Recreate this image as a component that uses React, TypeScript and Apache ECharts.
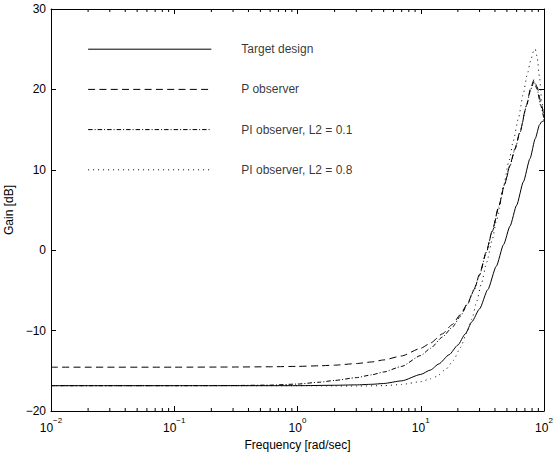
import React, { useEffect, useRef } from 'react';
import * as echarts from 'echarts';

// ---- data ----
const targetFreq = [0.01, 0.1, 1, 2, 3, 4, 5, 7, 10, 12, 14, 17, 20, 23, 26, 30, 35, 41, 47, 53, 60, 68, 77, 85, 92, 96, 100];
const targetGain = [-16.85, -16.85, -16.85, -16.8, -16.75, -16.68, -16.58, -16.25, -15.45, -14.9, -14.15, -13.0, -11.8, -10.4, -8.9, -7.3, -4.9, -2.0, 0.7, 3.0, 5.6, 8.5, 11.4, 13.9, 15.6, 16.0, 16.1];

const pObsFreq = [0.01, 0.1, 0.3, 0.6, 1, 1.5, 2, 3, 4, 5, 7, 10, 12, 15, 18, 21, 24, 27, 30, 34, 38, 43, 48, 53, 58, 64, 72, 78, 83, 88, 94, 100];
const pObsGain = [-14.55, -14.55, -14.53, -14.5, -14.45, -14.38, -14.3, -14.1, -13.9, -13.65, -13.15, -12.2, -11.55, -10.4, -9.25, -8.0, -6.6, -4.9, -3.0, -0.2, 2.4, 5.5, 8.3, 10.6, 12.6, 14.8, 18.0, 20.2, 21.2, 20.3, 18.5, 16.6];

const pi01Freq = [0.01, 0.1, 0.3, 0.6, 1, 1.5, 2, 3, 4, 5, 7, 10, 12, 15, 18, 21, 24, 27, 30, 34, 38, 43, 48, 53, 58, 64, 72, 78, 83, 88, 94, 100];
const pi01Gain = [-16.85, -16.85, -16.83, -16.78, -16.65, -16.42, -16.2, -15.85, -15.5, -15.15, -14.45, -13.1, -12.2, -10.8, -9.6, -8.2, -6.7, -5.0, -3.1, -0.3, 2.3, 5.4, 8.2, 10.5, 12.5, 14.7, 17.9, 20.0, 21.0, 20.0, 18.0, 16.3];

const pi08Freq = [0.01, 1, 2, 3, 5, 7, 10, 12, 13.5, 16, 18.4, 21, 23.6, 26, 28.4, 31, 34.3, 38, 41.3, 46.9, 52, 56.4, 62, 67.8, 73, 78, 82, 85, 88, 92, 96, 100];
const pi08Gain = [-16.85, -16.85, -16.88, -16.9, -16.85, -16.7, -16.35, -16.0, -15.7, -14.8, -13.7, -12.1, -10.3, -8.6, -6.4, -4.2, -1.5, 1.3, 3.8, 8.0, 11.1, 13.6, 16.4, 19.4, 21.8, 23.6, 24.7, 25.0, 24.0, 21.5, 18.5, 16.0];

const legendNames = ['Target design', 'P observer', 'PI observer, L2 = 0.1', 'PI observer, L2 = 0.8'];
const legendLevels = [25, 20, 15, 10];
const legendLineFrom = 0.02;
const legendLineTo = 0.2;
const legendTextAt = 0.35;

const xMin = 0.01;
const xMax = 100;
const yMin = -20;
const yMax = 30;
const yStep = 10;
const decades = [0.01, 0.1, 1, 10];
const minorMultipliers = [2, 3, 4, 5, 6, 7, 8, 9];

const FONT = '"Liberation Sans", Arial, Helvetica, sans-serif';
const dashTypes: any[] = ['solid', [7, 4.3], [4.5, 2, 1, 2], [1, 4]];

const zip = (f: number[], g: number[]) => f.map((v, i) => [v, g[i]]);
const minus = (s: string) => s.replace('-', '\u2212');

export default function App() {
  const ref = useRef<HTMLDivElement>(null);
  useEffect(() => {
    if (!ref.current) return;
    const chart = echarts.init(ref.current, undefined, { renderer: 'svg' });
    const minorTicks: number[][] = [];
    decades.forEach((d) => minorMultipliers.forEach((m) => minorTicks.push([d * m, yMin])));

    const curves = [
      zip(targetFreq, targetGain),
      zip(pObsFreq, pObsGain),
      zip(pi01Freq, pi01Gain),
      zip(pi08Freq, pi08Gain),
    ];

    const series: any[] = [];
    curves.forEach((data, i) => {
      series.push({
        type: 'line',
        name: legendNames[i],
        data,
        showSymbol: false,
        symbol: 'none',
        smooth: 0.2,
        smoothMonotone: 'x',
        silent: true,
        lineStyle: { color: '#000', width: 1, type: dashTypes[i] },
        z: 3,
      });
      series.push({
        type: 'line',
        data: [[legendLineFrom, legendLevels[i]], [legendLineTo, legendLevels[i]]],
        showSymbol: false,
        symbol: 'none',
        silent: true,
        lineStyle: { color: '#000', width: 1, type: dashTypes[i] },
        z: 3,
      });
    });
    series.push({
      type: 'scatter',
      data: legendNames.map((n, i) => [legendTextAt, legendLevels[i], n]),
      symbolSize: 0,
      silent: true,
      label: {
        show: true,
        position: 'right',
        distance: 0,
        formatter: (p: any) => p.value[2],
        color: '#000',
        fontSize: 12,
        fontFamily: FONT,
      },
    });
    series.push({
      type: 'custom',
      data: minorTicks,
      silent: true,
      clip: false,
      renderItem: (_p: any, api: any) => {
        const x = api.value(0);
        const b = api.coord([x, yMin]);
        const t = api.coord([x, yMax]);
        return {
          type: 'group',
          children: [
            { type: 'line', shape: { x1: b[0], y1: b[1], x2: b[0], y2: b[1] - 3 }, style: { stroke: '#000', lineWidth: 1 } },
            { type: 'line', shape: { x1: t[0], y1: t[1], x2: t[0], y2: t[1] + 3 }, style: { stroke: '#000', lineWidth: 1 } },
          ],
        };
      },
    });

    const axisLine = { show: true, onZero: false, lineStyle: { color: '#000', width: 1 } };
    const axisTick = { show: true, inside: true, length: 5, lineStyle: { color: '#000', width: 1 } };

    chart.setOption({
      animation: false,
      backgroundColor: '#fff',
      textStyle: { fontFamily: FONT },
      grid: { left: 51, right: 10, top: 9, bottom: 42, containLabel: false, outerBoundsMode: 'none' },
      xAxis: [
        {
          type: 'log',
          logBase: 10,
          min: xMin,
          max: xMax,
          position: 'bottom',
          axisLine,
          axisTick,
          splitLine: { show: false },
          name: 'Frequency [rad/sec]',
          nameLocation: 'middle',
          nameGap: 24,
          nameTextStyle: { color: '#000', fontSize: 12, fontFamily: FONT },
          axisLabel: {
            color: '#000',
            margin: 5,
            formatter: (v: number) => {
              const e = Math.round(Math.log10(v));
              return `{b|10}{s|${minus(String(e))}}`;
            },
            rich: {
              b: { fontSize: 12, lineHeight: 12, verticalAlign: 'bottom', fontFamily: FONT, color: '#000' },
              s: { fontSize: 8, lineHeight: 18, verticalAlign: 'top', fontFamily: FONT, color: '#000' },
            },
          },
        },
        {
          type: 'log',
          logBase: 10,
          min: xMin,
          max: xMax,
          position: 'top',
          axisLine,
          axisTick,
          axisLabel: { show: false },
          splitLine: { show: false },
        },
      ],
      yAxis: [
        {
          type: 'value',
          min: yMin,
          max: yMax,
          interval: yStep,
          position: 'left',
          axisLine,
          axisTick,
          splitLine: { show: false },
          name: 'Gain [dB]',
          nameLocation: 'middle',
          nameGap: 25,
          nameTextStyle: { color: '#000', fontSize: 12, fontFamily: FONT },
          axisLabel: {
            color: '#000',
            fontSize: 12,
            fontFamily: FONT,
            margin: 5,
            formatter: (v: number) => minus(String(v)),
          },
        },
        {
          type: 'value',
          min: yMin,
          max: yMax,
          interval: yStep,
          position: 'right',
          axisLine,
          axisTick,
          axisLabel: { show: false },
          splitLine: { show: false },
        },
      ],
      series,
    });
    return () => chart.dispose();
  }, []);
  return <div ref={ref} style={{ position: 'fixed', left: 0, top: 0, width: 554, height: 453, background: '#fff' }} />;
}
